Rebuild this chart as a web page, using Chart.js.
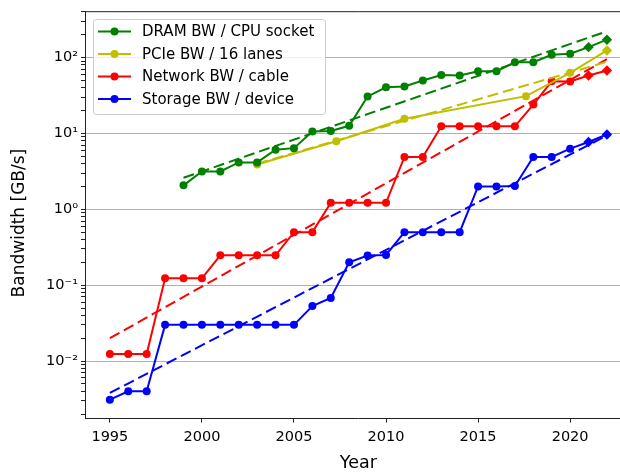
<!DOCTYPE html>
<html>
<head>
<meta charset="utf-8">
<script src="https://cdn.jsdelivr.net/npm/chart.js@4.4.0/dist/chart.umd.min.js"></script>
<style>
html, body { margin: 0; padding: 0; background: #fff; overflow: hidden; }
#wrap { width: 620px; height: 472px; overflow: hidden; }
</style>
</head>
<body>
<!-- the reference is cropped on the right, so the canvas is a bit wider than the window -->
<div id="wrap"><canvas id="bw" width="637" height="472"></canvas></div>
<script>
"use strict";
// bandwidth in GB/s
const seriesNames = ["DRAM BW / CPU socket", "PCIe BW / 16 lanes", "Network BW / cable", "Storage BW / device"];
const seriesColors = ["#008000", "#bfbf00", "#ff0000", "#0000ff"];

const dramYears = [1999, 2000, 2001, 2002, 2003, 2004, 2005, 2006, 2007, 2008, 2009, 2010, 2011, 2012, 2013, 2014, 2015, 2016, 2017, 2018, 2019, 2020, 2021, 2022];
const dramBW = [2.07, 3.16, 3.16, 4.15, 4.15, 6.1, 6.4, 10.6, 10.8, 12.6, 30.7, 40.6, 41.5, 49.8, 59, 58, 66, 66, 86.7, 86.7, 109, 112, 137, 172];

const pcieYears = [2003, 2007.3, 2011, 2017.6, 2020, 2022];
const pcieBW = [3.9, 7.9, 15.6, 31, 63, 124];

const netYears = [1995, 1996, 1997, 1998, 1999, 2000, 2001, 2002, 2003, 2004, 2005, 2006, 2007, 2008, 2009, 2010, 2011, 2012, 2013, 2014, 2015, 2016, 2017, 2018, 2019, 2020, 2021, 2022];
const netBW = [0.0124, 0.0124, 0.0124, 0.123, 0.123, 0.123, 0.248, 0.248, 0.248, 0.248, 0.5, 0.5, 1.22, 1.22, 1.22, 1.22, 4.9, 4.9, 12.4, 12.4, 12.4, 12.4, 12.4, 24, 48.7, 48.5, 58, 67.5];

const storYears = [1995, 1996, 1997, 1998, 1999, 2000, 2001, 2002, 2003, 2004, 2005, 2006, 2007, 2008, 2009, 2010, 2011, 2012, 2013, 2014, 2015, 2016, 2017, 2018, 2019, 2020, 2021, 2022];
const storBW = [0.0031, 0.004, 0.004, 0.03, 0.03, 0.03, 0.03, 0.03, 0.03, 0.03, 0.03, 0.053, 0.068, 0.2, 0.246, 0.25, 0.5, 0.5, 0.5, 0.5, 2, 2, 2.03, 4.9, 4.9, 6.3, 7.7, 9.7];

// dashed trend lines (end points)
const dramTrendYears = [1999, 2022], dramTrend = [2.6, 222];
const pcieTrendYears = [2003, 2022], pcieTrend = [4.0, 88];
const netTrendYears = [1995, 2022], netTrend = [0.02, 95];
const storTrendYears = [1995, 2022], storTrend = [0.0038, 9.4];

// projected years drawn with diamonds
const projectedFrom = 2021;

const xTicks = [1995, 2000, 2005, 2010, 2015, 2020];
const yMajor = [0.01, 0.1, 1, 10, 100];
const yLabels = ["10\u207B\u00B2", "10\u207B\u00B9", "10\u2070", "10\u00B9", "10\u00B2"];
const yTitle = "Bandwidth [GB/s]";

const xMin = 1993.65, xMax = 2023.35;
const yMin = 0.00175, yMax = 402;
const FONT = "'DejaVu Sans', sans-serif";

function pts(xs, ys) {
	return xs.map((x, i) => ({ x: x, y: ys[i] }));
}

function solid(i, xs, ys) {
	return {
		label: seriesNames[i],
		data: pts(xs, ys),
		borderColor: seriesColors[i],
		backgroundColor: seriesColors[i],
		borderWidth: 2,
		pointRadius: ctx => (ctx.raw && ctx.raw.x >= projectedFrom) ? 5.2 : 4,
		pointStyle: ctx => (ctx.raw && ctx.raw.x >= projectedFrom) ? 'rectRot' : 'circle',
		pointBorderWidth: 0,
		tension: 0
	};
}

function trend(i, xs, ys) {
	return {
		label: seriesNames[i] + " trend",
		data: pts(xs, ys),
		borderColor: seriesColors[i],
		borderWidth: 2,
		borderDash: [11, 5],
		pointRadius: 0,
		tension: 0
	};
}

// minor ticks 2..9 per decade, majors at powers of ten
let yTickList = [];
for (let e = -3; e <= 2; e++) {
	for (let m = 1; m <= 9; m++) {
		const v = m * Math.pow(10, e);
		if (v < yMin || v > yMax) continue;
		const k = yMajor.indexOf(Number(v.toPrecision(6)));
		yTickList.push({ value: v, major: m === 1, label: m === 1 && k >= 0 ? yLabels[k] : '' });
	}
}

const legendBox = {
	id: 'legendBox',
	afterDraw(chart) {
		const c = chart.ctx;
		c.save();
		const x = 93, y = 19, w = 232, h = 95;
		c.beginPath();
		c.roundRect(x + 0.5, y + 0.5, w, h, 3);
		c.fillStyle = 'rgba(255,255,255,0.8)';
		c.fill();
		c.strokeStyle = '#cccccc';
		c.lineWidth = 1;
		c.stroke();
		c.font = "15px " + FONT;
		c.textBaseline = 'middle';
		seriesNames.forEach((name, i) => {
			const ry = 31.5 + i * 22.5;
			c.strokeStyle = seriesColors[i];
			c.lineWidth = 2;
			c.beginPath();
			c.moveTo(98, ry);
			c.lineTo(131, ry);
			c.stroke();
			c.fillStyle = seriesColors[i];
			c.beginPath();
			c.arc(114.5, ry, 4, 0, Math.PI * 2);
			c.fill();
			c.fillStyle = '#000';
			c.fillText(name, 142, ry + 1);
		});
		c.restore();
	}
};

// top spine + y axis title (sits a little below the axis middle in the reference)
const frame = {
	id: 'frame',
	afterDraw(chart) {
		const a = chart.chartArea, c = chart.ctx;
		c.save();
		c.strokeStyle = '#222';
		c.lineWidth = 1;
		c.beginPath();
		c.moveTo(a.left, a.top);
		c.lineTo(a.right, a.top);
		c.stroke();
		c.translate(20, (a.top + a.bottom) / 2 + 8);
		c.rotate(-Math.PI / 2);
		c.font = "17px " + FONT;
		c.fillStyle = '#000';
		c.textAlign = 'center';
		c.textBaseline = 'middle';
		c.fillText(yTitle, 0, 0);
		c.restore();
	}
};

new Chart(document.getElementById('bw'), {
	type: 'line',
	data: {
		datasets: [
			solid(0, dramYears, dramBW),
			trend(0, dramTrendYears, dramTrend),
			solid(1, pcieYears, pcieBW),
			trend(1, pcieTrendYears, pcieTrend),
			solid(2, netYears, netBW),
			trend(2, netTrendYears, netTrend),
			solid(3, storYears, storBW),
			trend(3, storTrendYears, storTrend)
		]
	},
	options: {
		responsive: false,
		animation: false,
		devicePixelRatio: 1,
		layout: { padding: { left: 0, right: 0, top: 11.5, bottom: 0 } },
		plugins: { legend: { display: false }, tooltip: { enabled: false } },
		scales: {
			x: {
				type: 'linear',
				min: xMin,
				max: xMax,
				afterBuildTicks: s => { s.ticks = xTicks.map(v => ({ value: v })); },
				afterFit: s => { s.height = 53.5; },
				ticks: { autoSkip: false, maxRotation: 0, padding: 6, color: '#000', font: { family: FONT, size: 14.5 }, callback: v => String(v) },
				grid: { drawOnChartArea: false, tickColor: '#222', tickLength: 4, tickWidth: 1 },
				border: { color: '#222', width: 1 },
				title: { display: true, text: 'Year', color: '#000', font: { family: FONT, size: 17.5, lineHeight: 1 }, padding: { top: 0, bottom: 0 } }
			},
			y: {
				type: 'logarithmic',
				min: yMin,
				max: yMax,
				afterBuildTicks: s => { s.ticks = yTickList.map(t => ({ value: t.value, major: t.major, lbl: t.label })); },
				afterFit: s => { s.width = 85; },
				ticks: {
					autoSkip: false, padding: 3, color: '#000', font: { family: FONT, size: 14.5 },
					callback: (v, i, ticks) => ticks[i].lbl
				},
				grid: {
					color: ctx => (ctx.tick && ctx.tick.major) ? '#b0b0b0' : 'rgba(0,0,0,0)',
					lineWidth: 1,
					tickColor: '#222',
					tickLength: 4,
					tickWidth: 1
				},
				border: { color: '#222', width: 1 }
			}
		}
	},
	plugins: [legendBox, frame]
});
</script>
</body>
</html>
